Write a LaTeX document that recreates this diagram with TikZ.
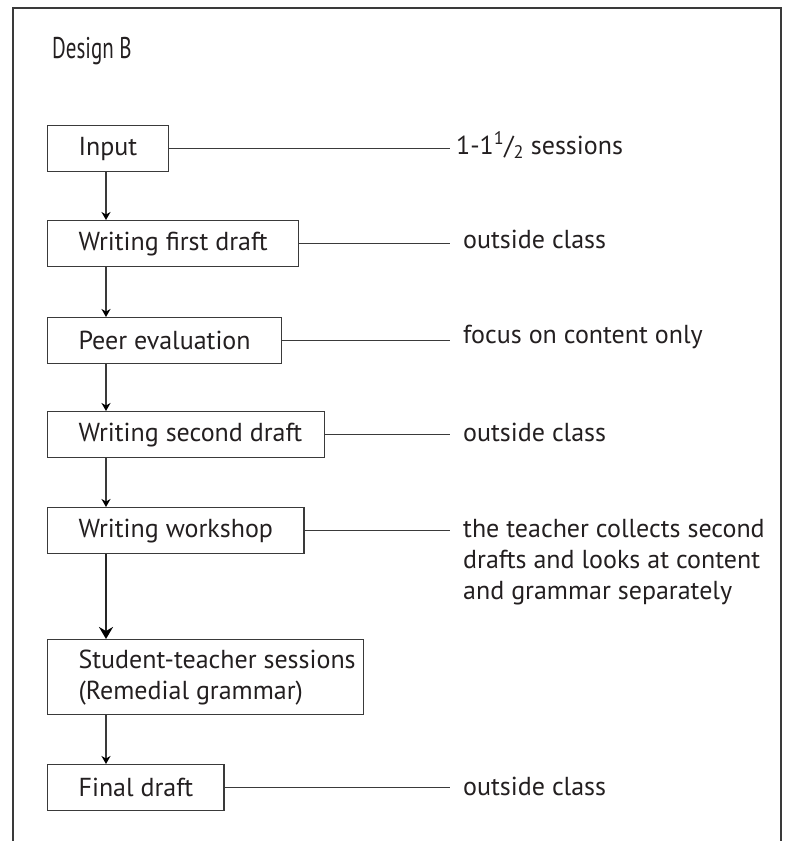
\documentclass[tikz,border=0pt]{standalone}
\usepackage{fontspec}
\setmainfont{PT Sans}
\usepackage{graphicx}
\usetikzlibrary{arrows.meta, positioning}
\definecolor{trazo}{HTML}{3A3A3A}
\definecolor{texto}{HTML}{231F20}
\newcommand{\sangria}[1]{\hspace*{#1}}
\tikzstyle{etapa} = [draw=trazo, line width=1.2pt, rectangle, anchor=north west, minimum height=46pt, inner xsep=31pt, inner ysep=0pt, align=left, text=texto, font=\fontsize{26}{31}\selectfont]
\tikzstyle{nota} = [anchor=base west, inner sep=0pt, align=left, text=texto, font=\fontsize{26}{31}\selectfont]
\tikzstyle{flecha} = [draw=trazo, line width=1.4pt, -{Stealth[length=8pt, width=9pt, inset=2.5pt, color=black]}]
\tikzstyle{flechagruesa} = [draw=black!85, line width=2.6pt, -{Stealth[length=12pt, width=14pt, inset=4pt, color=black]}]
\tikzstyle{linea} = [draw=trazo, line width=1.2pt]

\begin{document}
\begin{tikzpicture}[x=1pt, y=-1pt]
	\useasboundingbox (0,0) rectangle (785,841);
	% marco abierto por abajo
	\draw[draw=trazo, line width=1.5pt] (13,841) -- (13,8) -- (781,8) -- (781,841);
	\node[anchor=west, inner sep=0pt, text=texto, font=\fontsize{30}{34}\selectfont] (titulo) at (52,51) {\scalebox{0.70}[1]{Design B}};

	\coordinate (eje) at (106,0);
	\coordinate (fin) at (450,0);

	\node[etapa] (input) at (47,125) {Input};
	\node[etapa] (primer) at (47,220) {Writing first draft};
	\node[etapa] (peer) at (47,317) {Peer evaluation};
	\node[etapa, inner xsep=22pt] (segundo) at (47,411) {\sangria{9pt}Writing second draft};
	\node[etapa] (taller) at (47,507) {Writing workshop};
	\node[etapa, minimum height=75pt, inner xsep=8pt] (sesiones) at (47,639) {\sangria{23pt}Student-teacher sessions\\\sangria{23pt}(Remedial grammar)};
	\node[etapa] (final) at (47,764) {Final draft};

	\node[nota] (n1) at (456,154) {1-1\textsuperscript{1}/\textsubscript{2} sessions};
	\node[nota] (n2) at (463,248) {outside class};
	\node[nota] (n3) at (463,343) {focus on content only};
	\node[nota] (n4) at (463,441) {outside class};
	\node[nota, anchor=north west] (n5) at (463,519) {the teacher collects second\\drafts and looks at content\\and grammar separately};
	\node[nota] (n6) at (463,795) {outside class};

	\draw[flecha] (input.south -| eje) -- (primer.north -| eje);
	\draw[flecha] (primer.south -| eje) -- (peer.north -| eje);
	\draw[flecha] (peer.south -| eje) -- (segundo.north -| eje);
	\draw[flecha] (segundo.south -| eje) -- (taller.north -| eje);
	\draw[flechagruesa] (taller.south -| eje) -- (sesiones.north -| eje);
	\draw[flecha] (sesiones.south -| eje) -- (final.north -| eje);

	\draw[linea] (input.east) -- (input.east -| fin);
	\draw[linea] (primer.east) -- (primer.east -| fin);
	\draw[linea] (peer.east) -- (peer.east -| fin);
	\draw[linea] (segundo.east) -- (segundo.east -| fin);
	\draw[linea] (taller.east) -- (taller.east -| fin);
	\draw[linea] (final.east) -- (final.east -| fin);
\end{tikzpicture}
\end{document}
